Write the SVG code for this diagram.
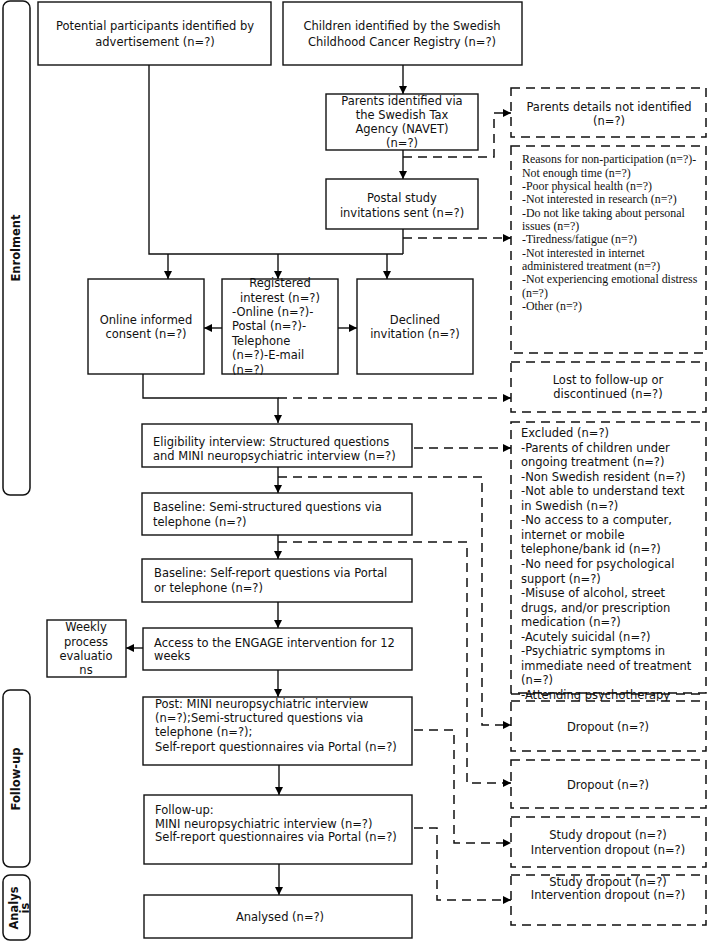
<svg xmlns="http://www.w3.org/2000/svg" width="708" height="944" viewBox="0 0 708 944">
<defs>
<marker id="ah" markerUnits="userSpaceOnUse" markerWidth="9" markerHeight="9" refX="8" refY="4" orient="auto">
<path d="M0,0 L8,4 L0,8 z" fill="#000"/>
</marker>
<style>
.box{fill:#fff;stroke:#111;stroke-width:1.4}
.dbox{fill:#fff;stroke:#111;stroke-width:1.5;stroke-dasharray:9 6}
.bar{fill:#fff;stroke:#111;stroke-width:1.5}
.t{font-family:"DejaVu Sans",Verdana,sans-serif;font-size:11.5px;fill:#111}
.c{text-anchor:middle}
.s{font-family:"Liberation Serif","Times New Roman",serif;font-size:11.9px;fill:#111}
.lbl{font-family:"DejaVu Sans",Verdana,sans-serif;font-size:11.5px;font-weight:bold;fill:#111;text-anchor:middle}
.ln{fill:none;stroke:#111;stroke-width:1.4}
.dl{fill:none;stroke:#111;stroke-width:1.5;stroke-dasharray:9 6}
</style>
</defs>
<rect width="708" height="944" fill="#fff"/>

<g id="phase-enrolment">
<rect class="bar" x="3" y="1" width="27" height="494" rx="7"/>
<text class="lbl" transform="translate(20,248) rotate(-90)">Enrolment</text>
</g>
<g id="phase-followup">
<rect class="bar" x="3" y="690" width="27" height="177" rx="7"/>
<text class="lbl" transform="translate(20,779) rotate(-90)">Follow-up</text>
</g>
<g id="phase-analysis">
<rect class="bar" x="3" y="875" width="27" height="65" rx="7"/>
<text class="lbl" transform="translate(18,908) rotate(-90)">Analys</text>
<text class="lbl" transform="translate(29,908) rotate(-90)">is</text>
</g>

<g id="connectors">
<polyline class="ln" points="149,65 149,254 403,254"/>
<line class="ln" x1="403" y1="229" x2="403" y2="254"/>
<line class="ln" x1="168" y1="254" x2="168" y2="279" marker-end="url(#ah)"/>
<line class="ln" x1="278" y1="254" x2="278" y2="279" marker-end="url(#ah)"/>
<line class="ln" x1="387" y1="254" x2="387" y2="279" marker-end="url(#ah)"/>
<line class="ln" x1="403" y1="65" x2="403" y2="94" marker-end="url(#ah)"/>
<line class="ln" x1="403" y1="150" x2="403" y2="179" marker-end="url(#ah)"/>
<polyline class="dl" points="403,157 494,157 494,113 511,113" marker-end="url(#ah)"/>
<line class="dl" x1="403" y1="238" x2="511" y2="238" marker-end="url(#ah)"/>
<line class="ln" x1="222" y1="328" x2="204" y2="328" marker-end="url(#ah)"/>
<line class="ln" x1="338" y1="328" x2="357" y2="328" marker-end="url(#ah)"/>
<polyline class="ln" points="143,374 143,398 278,398 278,423" marker-end="url(#ah)"/>
<line class="dl" x1="278" y1="398" x2="511" y2="398" marker-end="url(#ah)"/>
<line class="ln" x1="278" y1="467" x2="278" y2="493" marker-end="url(#ah)"/>
<line class="dl" x1="414" y1="448" x2="511" y2="448" marker-end="url(#ah)"/>
<polyline class="dl" points="278,477 482,477 482,725 511,725" marker-end="url(#ah)"/>
<line class="ln" x1="278" y1="535" x2="278" y2="559" marker-end="url(#ah)"/>
<polyline class="dl" points="278,542 467,542 467,783 511,783" marker-end="url(#ah)"/>
<line class="ln" x1="278" y1="602" x2="278" y2="628" marker-end="url(#ah)"/>
<line class="ln" x1="143" y1="648" x2="126" y2="648" marker-end="url(#ah)"/>
<line class="ln" x1="278" y1="670" x2="278" y2="697" marker-end="url(#ah)"/>
<polyline class="dl" points="414,730 454,730 454,843 511,843" marker-end="url(#ah)"/>
<line class="ln" x1="279" y1="765" x2="279" y2="795" marker-end="url(#ah)"/>
<polyline class="dl" points="414,828 437,828 437,900 511,900" marker-end="url(#ah)"/>
<line class="ln" x1="279" y1="864" x2="279" y2="895" marker-end="url(#ah)"/>
</g>

<g id="potential">
<rect class="box" x="38" y="2" width="233" height="63"/>
<text class="t c" x="155" y="30">Potential participants identified by</text>
<text class="t c" x="155" y="46">advertisement (n=?)</text>
</g>
<g id="children">
<rect class="box" x="283" y="2" width="239" height="63"/>
<text class="t c" x="402" y="30">Children identified by the Swedish</text>
<text class="t c" x="402" y="46">Childhood Cancer Registry (n=?)</text>
</g>
<g id="parents">
<rect class="box" x="326" y="94" width="152" height="56"/>
<text class="t c" x="402" y="105">Parents identified via</text>
<text class="t c" x="402" y="119">the Swedish Tax</text>
<text class="t c" x="402" y="133">Agency (NAVET)</text>
<text class="t c" x="402" y="147">(n=?)</text>
</g>
<g id="postal">
<rect class="box" x="326" y="179" width="152" height="50"/>
<text class="t c" x="402" y="202">Postal study</text>
<text class="t c" x="402" y="217">invitations sent (n=?)</text>
</g>
<g id="not-identified">
<rect class="dbox" x="511" y="88" width="195" height="49"/>
<text class="t c" x="609" y="111">Parents details not identified</text>
<text class="t c" x="609" y="125">(n=?)</text>
</g>
<g id="reasons">
<rect class="dbox" x="511" y="146" width="195" height="207"/>
<text class="s" x="522" y="163">Reasons for non-participation (n=?)-</text>
<text class="s" x="522" y="177">Not enough time (n=?)</text>
<text class="s" x="522" y="190">-Poor physical health (n=?)</text>
<text class="s" x="522" y="203">-Not interested in research (n=?)</text>
<text class="s" x="522" y="217">-Do not like taking about personal</text>
<text class="s" x="522" y="230">issues (n=?)</text>
<text class="s" x="522" y="243">-Tiredness/fatigue (n=?)</text>
<text class="s" x="522" y="257">-Not interested in internet</text>
<text class="s" x="522" y="270">administered treatment (n=?)</text>
<text class="s" x="522" y="283">-Not experiencing emotional distress</text>
<text class="s" x="522" y="297">(n=?)</text>
<text class="s" x="522" y="310">-Other (n=?)</text>
</g>
<g id="consent">
<rect class="box" x="88" y="279" width="116" height="95"/>
<text class="t c" x="146" y="324">Online informed</text>
<text class="t c" x="146" y="338">consent (n=?)</text>
</g>
<g id="registered">
<rect class="box" x="222" y="279" width="116" height="95"/>
<text class="t c" x="280" y="287">Registered</text>
<text class="t c" x="280" y="302">interest (n=?)</text>
<text class="t" x="232" y="316">-Online (n=?)-</text>
<text class="t" x="232" y="330">Postal (n=?)-</text>
<text class="t" x="232" y="345">Telephone</text>
<text class="t" x="232" y="359">(n=?)-E-mail</text>
<text class="t" x="232" y="374">(n=?)</text>
</g>
<g id="declined">
<rect class="box" x="357" y="279" width="116" height="95"/>
<text class="t c" x="415" y="324">Declined</text>
<text class="t c" x="415" y="338">invitation (n=?)</text>
</g>
<g id="lost">
<rect class="dbox" x="511" y="362" width="195" height="50"/>
<text class="t c" x="608" y="384">Lost to follow-up or</text>
<text class="t c" x="608" y="398">discontinued (n=?)</text>
</g>
<g id="eligibility">
<rect class="box" x="142" y="424" width="270" height="43"/>
<text class="t" x="153" y="446">Eligibility interview: Structured questions</text>
<text class="t" x="153" y="460">and MINI neuropsychiatric interview (n=?)</text>
</g>
<g id="excluded">
<rect class="dbox" x="511" y="422" width="195" height="271"/>
<text class="t" x="521" y="437">Excluded (n=?)</text>
<text class="t" x="521" y="451.6">-Parents of children under</text>
<text class="t" x="521" y="466.1">ongoing treatment (n=?)</text>
<text class="t" x="521" y="480.7">-Non Swedish resident (n=?)</text>
<text class="t" x="521" y="495.2">-Not able to understand text</text>
<text class="t" x="521" y="509.8">in Swedish (n=?)</text>
<text class="t" x="521" y="524.3">-No access to a computer,</text>
<text class="t" x="521" y="538.9">internet or mobile</text>
<text class="t" x="521" y="553.4">telephone/bank id (n=?)</text>
<text class="t" x="521" y="568">-No need for psychological</text>
<text class="t" x="521" y="582.5">support (n=?)</text>
<text class="t" x="521" y="597.1">-Misuse of alcohol, street</text>
<text class="t" x="521" y="611.6">drugs, and/or prescription</text>
<text class="t" x="521" y="626.2">medication (n=?)</text>
<text class="t" x="521" y="640.7">-Acutely suicidal (n=?)</text>
<text class="t" x="521" y="655.3">-Psychiatric symptoms in</text>
<text class="t" x="521" y="669.8">immediate need of treatment</text>
<text class="t" x="521" y="684.4">(n=?)</text>
<text class="t" x="521" y="698.9">-Attending psychotherapy</text>
<line x1="511" y1="694" x2="706" y2="694" stroke="#111" stroke-width="1.5" stroke-dasharray="9 6"/>
</g>
<g id="baseline-semi">
<rect class="box" x="142" y="493" width="270" height="42"/>
<text class="t" x="153" y="511">Baseline: Semi-structured questions via</text>
<text class="t" x="153" y="526">telephone (n=?)</text>
</g>
<g id="baseline-self">
<rect class="box" x="142" y="559" width="270" height="43"/>
<text class="t" x="154" y="577">Baseline: Self-report questions via Portal</text>
<text class="t" x="154" y="592">or telephone (n=?)</text>
</g>
<g id="access">
<rect class="box" x="143" y="628" width="269" height="42"/>
<text class="t" x="154" y="647">Access to the ENGAGE intervention for 12</text>
<text class="t" x="154" y="660">weeks</text>
</g>
<g id="weekly">
<rect class="box" x="47" y="620" width="79" height="57"/>
<text class="t c" x="86" y="631">Weekly</text>
<text class="t c" x="86" y="646">process</text>
<text class="t c" x="86" y="660">evaluatio</text>
<text class="t c" x="86" y="674">ns</text>
</g>
<g id="post">
<rect class="box" x="143" y="697" width="269" height="68"/>
<text class="t" x="155" y="708">Post: MINI neuropsychiatric interview</text>
<text class="t" x="155" y="722">(n=?);Semi-structured questions via</text>
<text class="t" x="155" y="736">telephone (n=?);</text>
<text class="t" x="155" y="751">Self-report questionnaires via Portal (n=?)</text>
</g>
<g id="followup">
<rect class="box" x="144" y="795" width="268" height="69"/>
<text class="t" x="155" y="814">Follow-up:</text>
<text class="t" x="155" y="828">MINI neuropsychiatric interview (n=?)</text>
<text class="t" x="155" y="841">Self-report questionnaires via Portal (n=?)</text>
</g>
<g id="analysed">
<rect class="box" x="144" y="895" width="268" height="43"/>
<text class="t c" x="280" y="921">Analysed (n=?)</text>
</g>
<g id="dropout1">
<rect class="dbox" x="511" y="701" width="195" height="50"/>
<text class="t c" x="608" y="731">Dropout (n=?)</text>
</g>
<g id="dropout2">
<rect class="dbox" x="511" y="760" width="195" height="48"/>
<text class="t c" x="608" y="789">Dropout (n=?)</text>
</g>
<g id="study-dropout1">
<rect class="dbox" x="511" y="817" width="195" height="50"/>
<text class="t c" x="608" y="839">Study dropout (n=?)</text>
<text class="t c" x="608" y="854">Intervention dropout (n=?)</text>
</g>
<g id="study-dropout2">
<rect class="dbox" x="511" y="875" width="195" height="50"/>
<text class="t c" x="608" y="886">Study dropout (n=?)</text>
<text class="t c" x="608" y="899">Intervention dropout (n=?)</text>
</g>
</svg>
